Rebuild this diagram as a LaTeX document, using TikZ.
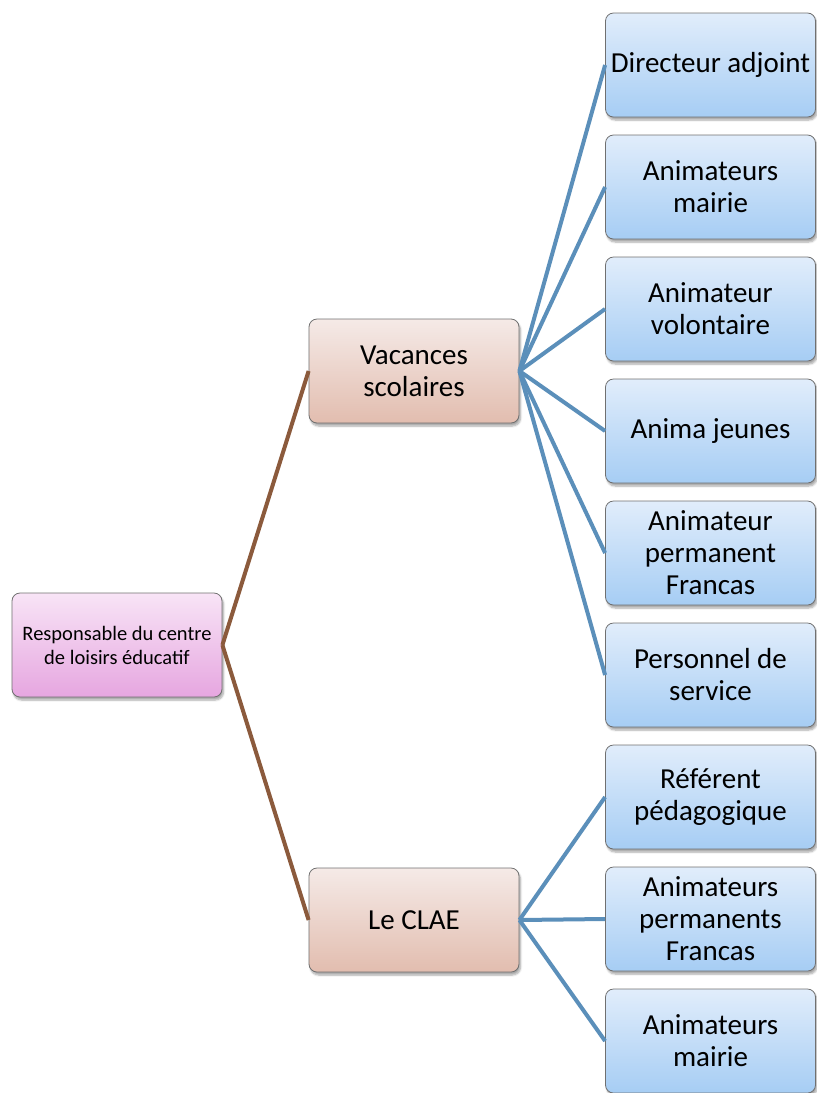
\documentclass[tikz,border=0pt]{standalone}
\usepackage{fontspec}
\setmainfont{Carlito}
\usetikzlibrary{shadows.blur}
\definecolor{brownline}{HTML}{8B5A3C}
\definecolor{blueline}{HTML}{5B8FBA}
\definecolor{boxedge}{HTML}{707070}
\tikzset{
  basebox/.style={draw=boxedge, line width=0.8pt, rounded corners=8pt,
    minimum width=210pt, minimum height=104pt, align=center, inner sep=2pt,
    blur shadow={shadow xshift=1.5pt, shadow yshift=-3pt, shadow opacity=35, shadow blur steps=6}},
  leafbox/.style={basebox, top color=blue!3!white!90!cyan, bottom color=blue!3!white!90!cyan,
    shading=axis, top color={rgb,255:red,225;green,237;blue,251}, bottom color={rgb,255:red,166;green,205;blue,244},
    font=\fontsize{29}{32}\selectfont},
  midbox/.style={basebox, top color={rgb,255:red,245;green,234;blue,231}, bottom color={rgb,255:red,226;green,189;blue,175},
    font=\fontsize{29}{32}\selectfont},
  rootbox/.style={basebox, top color={rgb,255:red,248;green,228;blue,246}, bottom color={rgb,255:red,230;green,166;blue,224},
    font=\fontsize{20.5}{24}\selectfont},
  brownlink/.style={draw=brownline, line width=4pt},
  bluelink/.style={draw=blueline, line width=4pt}
}
\begin{document}
\begin{tikzpicture}[x=1pt,y=-1pt]
\useasboundingbox (0,0) rectangle (817,1093);
\begin{scope}
\clip (0,0) rectangle (817,1093);
\node[rootbox] (root) at (117,645) {Responsable du centre\\de loisirs éducatif};
\node[midbox] (vac) at (414,371) {Vacances\\scolaires};
\node[midbox] (clae) at (414,920) {Le CLAE};
\node[leafbox] (l1) at (710.5,65) {Directeur adjoint};
\node[leafbox] (l2) at (710.5,187) {Animateurs\\mairie};
\node[leafbox] (l3) at (710.5,309) {Animateur\\volontaire};
\node[leafbox] (l4) at (710.5,431) {Anima jeunes};
\node[leafbox] (l5) at (710.5,553) {Animateur\\permanent\\Francas};
\node[leafbox] (l6) at (710.5,675) {Personnel de\\service};
\node[leafbox] (l7) at (710.5,797) {Référent\\pédagogique};
\node[leafbox] (l8) at (710.5,919) {Animateurs\\permanents\\Francas};
\node[leafbox] (l9) at (710.5,1041) {Animateurs\\mairie};
\draw[brownlink] (root.east) -- (vac.west);
\draw[brownlink] (root.east) -- (clae.west);
\foreach \n in {l1,l2,l3,l4,l5,l6}{\draw[bluelink] (vac.east) -- (\n.west);}
\foreach \n in {l7,l8,l9}{\draw[bluelink] (clae.east) -- (\n.west);}
\end{scope}
\end{tikzpicture}
\end{document}
